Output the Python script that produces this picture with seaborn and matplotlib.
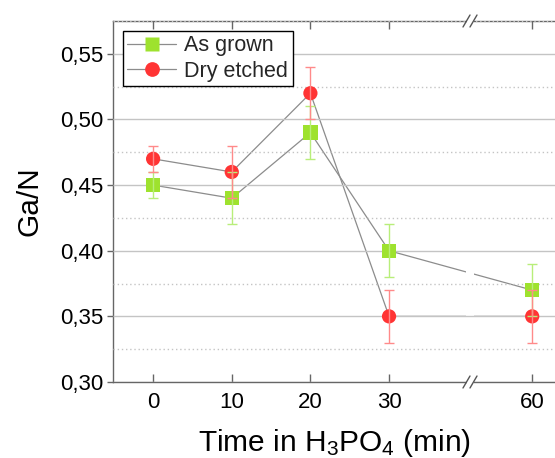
import numpy as np
import pandas as pd
import matplotlib
matplotlib.use('Agg')
import matplotlib.pyplot as plt
import seaborn as sns
from matplotlib.lines import Line2D
from matplotlib.patches import Rectangle
from matplotlib.ticker import FuncFormatter, MultipleLocator, NullLocator

# ---- data ----
time = [0, 10, 20, 30, 60]
as_grown = [0.45, 0.44, 0.49, 0.40, 0.37]
as_grown_err = [0.01, 0.02, 0.02, 0.02, 0.02]
dry_etched = [0.47, 0.46, 0.52, 0.35, 0.35]
dry_etched_err = [0.01, 0.02, 0.02, 0.02, 0.02]
series_names = ['As grown', 'Dry etched']
x_ticks = [0, 10, 20, 30, 60]
y_ticks = [0.30, 0.35, 0.40, 0.45, 0.50, 0.55]

# ---- style ----
sns.set_theme(style='white')
plt.rcParams['font.family'] = ['Liberation Sans', 'DejaVu Sans']
plt.rcParams['mathtext.default'] = 'regular'

GREEN = '#9ee22e'
RED = '#ff3434'
GREEN_ERR = '#b8ee7a'
RED_ERR = '#ff8a8a'
LINE = '#8c8c8c'
SPINE = '#666666'

# broken x-axis (gap between 40.2 and 52)
BREAK_LO, BREAK_HI = 40.2, 52.0
SHIFT = BREAK_HI - BREAK_LO


def fwd(x):
    x = np.asarray(x, dtype=float)
    return np.where(x <= BREAK_LO, x, np.where(x >= BREAK_HI, x - SHIFT, BREAK_LO))


def inv(y):
    y = np.asarray(y, dtype=float)
    return np.where(y <= BREAK_LO, y, y + SHIFT)


W, H = 555, 458
fig = plt.figure(figsize=(W / 100, H / 100), dpi=100)
L, R, T, B = 113, 555, 21, 382
ax = fig.add_axes([L / W, 1 - B / H, (R - L) / W, (B - T) / H])
ax.set_xscale('function', functions=(fwd, inv))

df = pd.DataFrame({
    'time': time * 2,
    'value': as_grown + dry_etched,
    'err': as_grown_err + dry_etched_err,
    'series': [series_names[0]] * len(time) + [series_names[1]] * len(time),
})

sns.lineplot(data=df, x='time', y='value', units='series', estimator=None,
             color=LINE, lw=0.9, ax=ax, zorder=1.8, legend=False, sort=False)
sns.scatterplot(data=df, x='time', y='value', hue='series', style='series',
                palette={series_names[0]: GREEN, series_names[1]: RED},
                markers={series_names[0]: 's', series_names[1]: 'o'},
                s=105, edgecolor='none', linewidth=0, ax=ax, zorder=3, legend=False)

for name, ecol in zip(series_names, [GREEN_ERR, RED_ERR]):
    sub = df[df['series'] == name]
    ax.errorbar(sub['time'], sub['value'], yerr=sub['err'], fmt='none',
                ecolor=ecol, elinewidth=1.0, capsize=3.4, capthick=1.0, zorder=3.5)

ax.set_xlim(-5.1, 62.9)
ax.set_ylim(0.30, 0.575)

# grid
ax.set_axisbelow(False)
ax.set_yticks(y_ticks)
ax.yaxis.set_minor_locator(MultipleLocator(0.025))
ax.xaxis.set_minor_locator(NullLocator())
ax.set_xticks(x_ticks)
ax.set_xticklabels([str(t) for t in x_ticks])
ax.yaxis.set_major_formatter(FuncFormatter(lambda v, p: f'{v:.2f}'.replace('.', ',')))
ax.grid(False)
ax.yaxis.grid(True, which='major', color='#c4c4c4', lw=1.0, ls='-')
ax.yaxis.grid(True, which='minor', color='#c4c4c4', lw=1.0, ls=(0, (1, 2)))

for s in ['left', 'bottom', 'top']:
    ax.spines[s].set_color(SPINE)
    ax.spines[s].set_linewidth(1.0)
ax.spines['right'].set_visible(False)

ax.tick_params(axis='x', which='major', direction='in', length=6, width=1,
               top=True, bottom=True, pad=7, labelsize=16, color=SPINE, labelcolor='black')
ax.tick_params(axis='y', which='major', direction='out', length=4, width=1,
               left=True, right=False, pad=3, labelsize=16, color=SPINE, labelcolor='black')
ax.tick_params(axis='y', which='minor', length=0)

ax.set_xlabel('Time in H$_3$PO$_4$ (min)', fontsize=21.5, labelpad=10, color='black')
ax.set_ylabel('Ga/N', fontsize=21.5, labelpad=12, color='black')

# break: white gap in the data lines and slashes on the spines
aw, ah = (R - L), (B - T)
bx = (470 - L) / aw
ax.add_patch(Rectangle((bx - 4 / aw, 0.0), 8 / aw, 1.0, transform=ax.transAxes,
                       facecolor='white', edgecolor='none', zorder=2.0))
for yy in (0.0, 1.0):
    ax.add_patch(Rectangle((bx - 3.5 / aw, yy - 2 / ah), 7 / aw, 4 / ah,
                           transform=ax.transAxes, facecolor='white',
                           edgecolor='none', zorder=5, clip_on=False))
    for dx in (-3.5, 3.5):
        ax.add_line(Line2D([bx + (dx - 3.5) / aw, bx + (dx + 3.5) / aw],
                           [yy - 6 / ah, yy + 6 / ah], transform=ax.transAxes,
                           color='#555555', lw=1.0, zorder=6, clip_on=False))

# legend
handles = [
    Line2D([], [], color=LINE, lw=0.9, marker='s', markersize=9.4,
           markerfacecolor=GREEN, markeredgecolor='none'),
    Line2D([], [], color=LINE, lw=0.9, marker='o', markersize=10.6,
           markerfacecolor=RED, markeredgecolor='none'),
]
leg = ax.legend(handles, series_names, loc='upper left',
                bbox_to_anchor=((123 - L) / aw, (B - 31) / ah), frameon=True,
                fancybox=False, edgecolor='black', fontsize=15.5, borderaxespad=0,
                handlelength=2.28, handletextpad=0.37, labelspacing=0.2,
                borderpad=0.2, framealpha=1)
leg.get_frame().set_linewidth(1.0)
leg.set_zorder(10)

fig.savefig('out.png', dpi=100)
